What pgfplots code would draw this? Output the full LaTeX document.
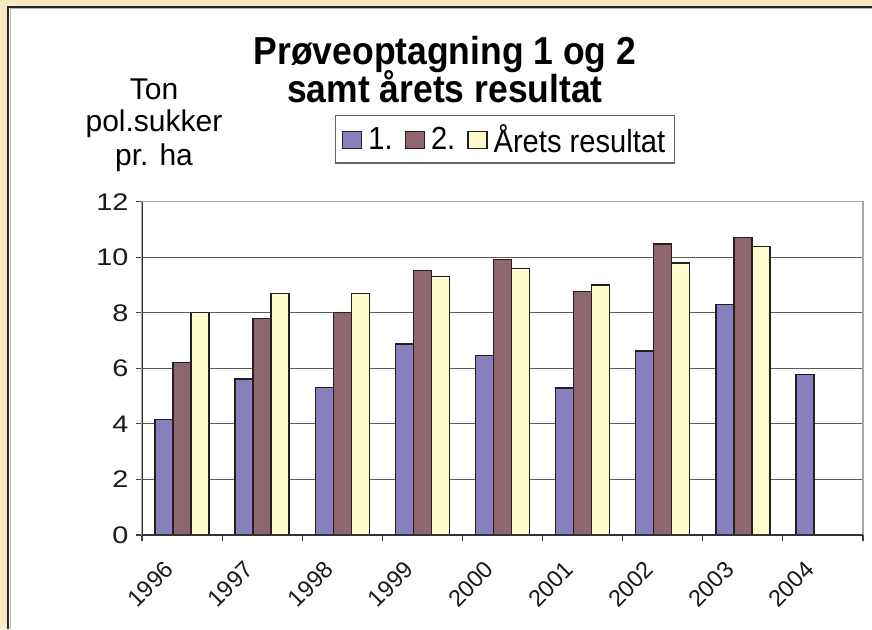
\documentclass[border=0pt]{standalone}
\usepackage{pgfplots}
\pgfplotsset{compat=1.18}
\usepackage{fontspec}
\setmainfont[FakeStretch=0.91]{Liberation Sans}
\newfontfamily\plainfont{Liberation Sans}
\newfontfamily\widefont[FakeStretch=1.2]{Liberation Sans}
\definecolor{bg}{HTML}{FAE8C5}
\definecolor{sone}{HTML}{8780BD}
\definecolor{stwo}{HTML}{8F656E}
\definecolor{sthree}{HTML}{FFFACC}
\definecolor{bord}{HTML}{231F20}
\begin{document}
\begin{tikzpicture}[x=1pt,y=1pt]
\useasboundingbox (0,0) rectangle (872,629);
\fill[bg] (0,0) rectangle (872,629);
\fill[white] (8,0) rectangle (872,622);
\draw[line width=2pt, color=black!85] (8,0) -- (8,622) -- (872,622);
\draw[line width=1pt, color=black!30] (10,0) -- (10,620) -- (872,620);
\begin{axis}[
  at={(142pt,94pt)}, anchor=south west,
  scale only axis, width=721pt, height=333.3pt,
  xmin=-0.5, xmax=8.5, ymin=0, ymax=12,
  ybar=0pt, bar width=18pt,
  xtick={0,...,8},
  xticklabels={1996,1997,1998,1999,2000,2001,2002,2003,2004},
  xtick pos=bottom, ytick pos=left,
  major x tick style={draw=none},
  extra x ticks={-0.5,0.5,...,8.5},
  extra x tick labels={},
  extra x tick style={major x tick style={draw=black!75, line width=1.2pt}, major tick length=6pt, xtick pos=bottom},
  ytick={0,2,...,12},
  tick align=outside, major tick length=6pt,
  ytick style={draw=black!75, line width=1.2pt},
  ymajorgrids, grid style={draw=black!65, line width=1.2pt},
  axis line style={draw=black!35, line width=1.2pt},
  /pgf/number format/assume math mode=true,
  tick label style={text=black!90},
  yticklabel style={font=\widefont\fontsize{24}{24}\selectfont, xshift=-4pt},
  xticklabel style={font=\plainfont\fontsize{23.5}{24}\selectfont, rotate=45, anchor=north east, inner sep=1pt, xshift=-25.5pt, yshift=1.5pt},
  legend image code/.code={\draw[#1, line width=1.3pt] (0pt,-9pt) rectangle (19pt,8pt);},
  legend columns=-1,
  legend style={at={(0.503,1.187)}, anchor=center, draw=black!60, line width=1.3pt,
    font=\fontsize{32}{32}\selectfont, inner xsep=7pt, inner ysep=7pt, nodes={inner sep=2pt},
    /tikz/every odd column/.append style={column sep=4pt},
    /tikz/every even column/.append style={column sep=10pt}},
]
\addplot[fill=sone, draw=bord, line width=1.4pt] coordinates {(0,4.15) (1,5.62) (2,5.3) (3,6.88) (4,6.47) (5,5.29) (6,6.62) (7,8.3) (8,5.78)};
\addplot[fill=stwo, draw=bord, line width=1.4pt] coordinates {(0,6.2) (1,7.8) (2,8.0) (3,9.53) (4,9.92) (5,8.77) (6,10.48) (7,10.72)};
\addplot[fill=sthree, draw=bord, line width=1.4pt] coordinates {(0,8.0) (1,8.7) (2,8.7) (3,9.3) (4,9.6) (5,9.0) (6,9.8) (7,10.38)};
\legend{1.,2.,Årets resultat}
\draw[black!80, line width=1.4pt] (rel axis cs:0,1) -- (rel axis cs:0,0) -- (rel axis cs:1,0);
\end{axis}
\node[anchor=base, font=\fontsize{39}{44}\selectfont\bfseries] at (445,564) {Prøveoptagning 1 og 2};
\node[anchor=base, font=\fontsize{39}{44}\selectfont\bfseries] at (445,526) {samt årets resultat};
\node[anchor=base, font=\plainfont\fontsize{30}{34}\selectfont] at (154,529) {Ton};
\node[anchor=base, font=\plainfont\fontsize{30}{34}\selectfont] at (154,497) {pol.sukker};
\node[anchor=base, font=\plainfont\fontsize{30}{34}\selectfont] at (154,463) {pr. ha};
\end{tikzpicture}
\end{document}
